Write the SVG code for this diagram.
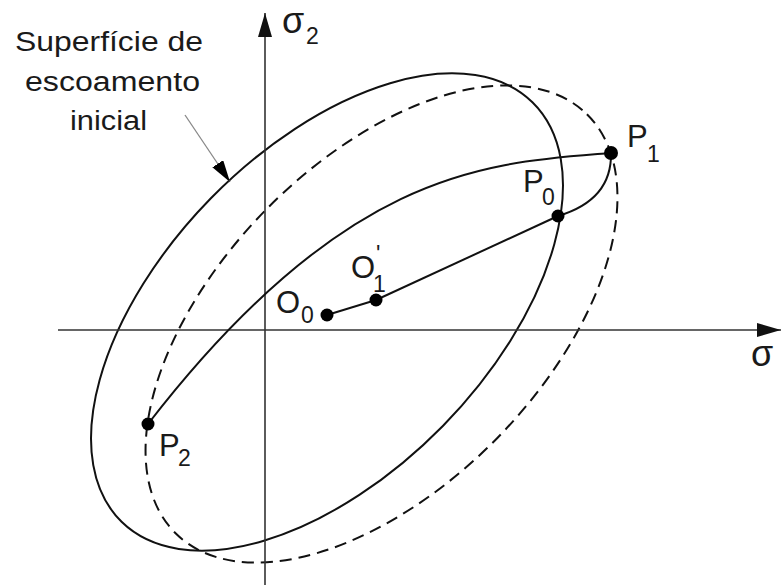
<svg xmlns="http://www.w3.org/2000/svg" width="783" height="585" viewBox="0 0 783 585">
<defs>
<marker id="axhead" viewBox="0 0 24 14" refX="24" refY="7" markerWidth="24" markerHeight="14" markerUnits="userSpaceOnUse" orient="auto"><path d="M0,0 L24,7 L0,14 Z" fill="#111"/></marker>
<marker id="leadhead" viewBox="0 0 22 13" refX="22" refY="6.5" markerWidth="22" markerHeight="13" markerUnits="userSpaceOnUse" orient="auto"><path d="M0,0 L22,6.5 L0,13 Z" fill="#000"/></marker>
</defs>
<style>
.txt{font-family:"Liberation Sans",Arial,sans-serif;fill:#1a1a1a}
.lbl{font-size:31px}
.sub{font-size:23px}
.sym{font-size:36px}
.note{font-size:27px}
.curve{fill:none;stroke:#111;stroke-width:2}
.dash{stroke-dasharray:12 7}
.axis{stroke:#333;stroke-width:1.6;fill:none}
.dot{fill:#000}
</style>
<rect width="783" height="585" fill="#fff"/>
<g id="surfaces">
<ellipse id="initial-surface" class="curve" cx="0" cy="0" rx="293.6" ry="162.5" transform="translate(327 312) rotate(-45.6)"/>
<ellipse id="current-surface" class="curve dash" cx="0" cy="0" rx="293.6" ry="162.5" transform="translate(381.5 324) rotate(-45.6)"/>
</g>
<g id="axes">
<line class="axis" x1="265" y1="585" x2="265" y2="13" marker-end="url(#axhead)"/>
<line class="axis" x1="58" y1="330" x2="781" y2="330" marker-end="url(#axhead)"/>
<text class="txt sym" x="282" y="33">σ</text><text class="txt sub" x="306" y="44">2</text>
<text class="txt sym" x="751" y="366">σ</text>
</g>
<g id="connectors">
<path class="curve" d="M327,315 L376,300"/>
<path class="curve" d="M376,300 L558,216"/>
<path class="curve" d="M558,216 Q612,200 611,153"/>
<path class="curve" d="M611,153 C490,163 348,165 148,424"/>
<line x1="185" y1="115" x2="230" y2="182" stroke="#888" stroke-width="1.3" marker-end="url(#leadhead)"/>
</g>
<g id="label-surface">
<text class="txt note" x="109" y="51" text-anchor="middle" textLength="188" lengthAdjust="spacingAndGlyphs">Superfície de</text>
<text class="txt note" x="112.5" y="91" text-anchor="middle" textLength="175" lengthAdjust="spacingAndGlyphs">escoamento</text>
<text class="txt note" x="108.5" y="130" text-anchor="middle" textLength="77" lengthAdjust="spacingAndGlyphs">inicial</text>
</g>
<g id="O0"><circle class="dot" cx="327" cy="315" r="6.5"/><text class="txt lbl" x="276" y="313">O</text><text class="txt sub" x="301" y="323">0</text></g>
<g id="O1"><circle class="dot" cx="376" cy="300" r="6.5"/><text class="txt lbl" x="351" y="278">O</text><text class="txt sub" x="373" y="292">1</text><text class="txt sub" x="376" y="262">'</text></g>
<g id="P0"><circle class="dot" cx="558" cy="216" r="6.5"/><text class="txt lbl" x="523" y="192">P</text><text class="txt sub" x="542" y="205">0</text></g>
<g id="P1"><circle class="dot" cx="611" cy="153" r="7"/><text class="txt lbl" x="627" y="147">P</text><text class="txt sub" x="647" y="162">1</text></g>
<g id="P2"><circle class="dot" cx="148" cy="424" r="6.5"/><text class="txt lbl" x="159" y="456">P</text><text class="txt sub" x="178" y="466">2</text></g>
</svg>
